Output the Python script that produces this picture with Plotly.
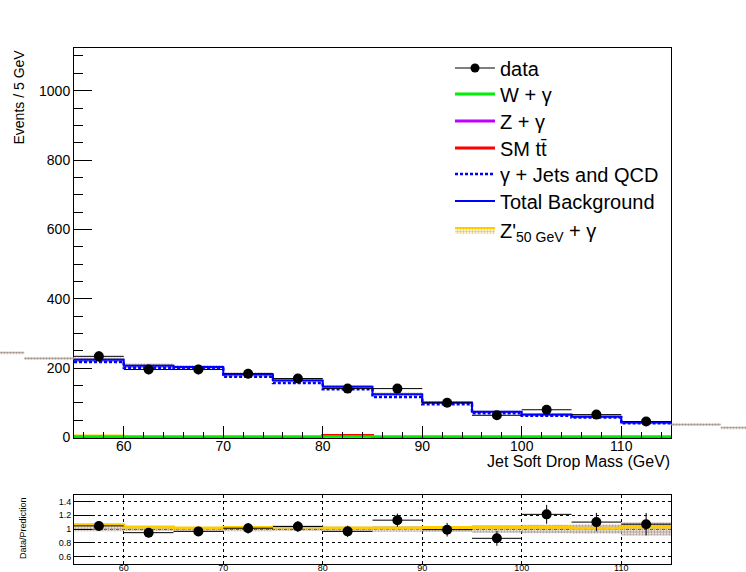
import plotly.graph_objects as go
import numpy as np


# binning and contents
bin_edges = [55, 60, 65, 70, 75, 80, 85, 90, 95, 100, 105, 110, 115]

data_counts = [234, 196, 196, 184, 170, 141, 141, 100, 64, 80, 66, 46]
data_err = [15, 14, 14, 14, 13, 12, 12, 10, 8, 9, 8, 7]

total_bkg = [224, 207, 203, 182, 164, 146, 125, 101, 74, 66, 60, 43]
total_bkg_err = [7, 6, 6, 6, 5, 5, 5, 4, 4, 4, 4, 4]
gjets_qcd = [218, 201, 198, 175, 157, 139, 117, 96, 70, 63, 58, 41]
w_gamma = [2, 2, 2, 2, 2, 2, 2, 2, 2, 2, 2, 2]
z_gamma = [0, 0, 0, 0, 0, 0, 0, 0, 0, 0, 0, 0]
sm_ttbar = [0, 0, 0, 0, 0, 6, 0, 0, 0, 0, 0, 0]
signal_zp50 = [6, 0, 0, 0, 0, 0, 0, 0, 0, 0, 0, 0]

# yellow line drawn in the ratio pad
ratio_signal = [1.06, 1.03, 1.015, 1.02, 1.03, 1.015, 1.015, 1.02, 1.025, 1.025, 1.01, 1.03]

# bits of the error band that ROOT drew outside the frame
band_left_edges = [45, 50, 55]
band_left_vals = [244, 228]
band_right_edges = [115, 120, 125]
band_right_vals = [37, 28]


W, H = 746, 572
FONT = 'Liberation Sans, Arial, Helvetica, sans-serif'

# frame positions in pixels
X0, X1 = 74, 671
MAIN_TOP, MAIN_BOT = 48, 437.5
RAT_TOP, RAT_BOT = 494.5, 563.5

# legend rows (pixel centre of each entry)
LEG_X = 450
LEG_ROWS = [68, 94, 121, 148, 174, 201, 230]

HATCH = '#a8968c'
SIGCOL = '#ffcc00'


def step(vals):
    return list(vals) + [vals[-1]]


def px_x(p):
    return p / W


def px_y(p):
    return 1 - p / H


def leg(i):
    return 'legend' if i == 1 else 'legend%d' % i


edges = np.asarray(bin_edges, dtype=float)
centers = 0.5 * (edges[1:] + edges[:-1])
half = 0.5 * (edges[1:] - edges[:-1])

bkg = np.asarray(total_bkg, dtype=float)
bkg_err = np.asarray(total_bkg_err, dtype=float)
dat = np.asarray(data_counts, dtype=float)
dat_err = np.asarray(data_err, dtype=float)

hatch = dict(shape='.', fgcolor=HATCH, bgcolor='rgba(0,0,0,0)', size=3, solidity=0.6)


traces = []

# total background uncertainty band
traces.append(go.Scatter(
    x=bin_edges, y=step(bkg - bkg_err),
    mode='lines', line=dict(width=0, shape='hv'),
    showlegend=False, hoverinfo='skip'
))
traces.append(go.Scatter(
    x=bin_edges, y=step(bkg + bkg_err),
    mode='lines', line=dict(width=0, shape='hv'),
    fill='tonexty', fillcolor='rgba(0,0,0,0)', fillpattern=hatch,
    showlegend=False, hoverinfo='skip'
))

traces.append(go.Scatter(
    name="Z'<sub>50 GeV</sub> + γ", x=bin_edges, y=step(signal_zp50),
    mode='lines', line=dict(color=SIGCOL, width=2, shape='hv'),
    fill='tozeroy', fillcolor='rgba(0,0,0,0)',
    fillpattern=dict(shape='.', fgcolor='#e8c860', bgcolor='rgba(0,0,0,0)', size=3, solidity=0.5),
    legend=leg(7)
))

for name, vals, col, i in [
    ('Z + γ', z_gamma, '#c000ff', 3),
    ('SM tt\u0304', sm_ttbar, '#ff0000', 4),
    ('W + γ', w_gamma, '#00ee00', 2),
]:
    traces.append(go.Scatter(
        name=name, x=bin_edges, y=step(vals),
        mode='lines', line=dict(color=col, width=3, shape='hv'),
        legend=leg(i)
    ))

traces.append(go.Scatter(
    name='γ + Jets and QCD', x=bin_edges, y=step(gjets_qcd),
    mode='lines', line=dict(color='#0000ff', width=2.5, dash='3px,2px', shape='hv'),
    legend=leg(5)
))
traces.append(go.Scatter(
    name='Total Background', x=bin_edges, y=step(total_bkg),
    mode='lines', line=dict(color='#0000ff', width=2, shape='hv'),
    legend=leg(6)
))

# data
traces.append(go.Scatter(
    x=centers, y=dat,
    mode='markers',
    marker=dict(color='black', size=10, symbol='circle'),
    error_x=dict(type='data', array=half, color='black', thickness=1, width=0),
    error_y=dict(type='data', array=dat_err, color='black', thickness=1, width=0),
    showlegend=False
))
traces.append(go.Scatter(
    name='data', x=[None], y=[None],
    mode='lines+markers',
    marker=dict(color='black', size=9, symbol='circle'),
    line=dict(color='black', width=1),
    legend=leg(1)
))

# band leaking out of the frame
for ed, vals in [(band_left_edges, band_left_vals), (band_right_edges, band_right_vals)]:
    traces.append(go.Scatter(
        x=ed, y=[v - 4 for v in step(vals)], xaxis='x3', yaxis='y',
        mode='lines', line=dict(width=0, shape='hv'),
        showlegend=False, hoverinfo='skip'
    ))
    traces.append(go.Scatter(
        x=ed, y=[v + 4 for v in step(vals)], xaxis='x3', yaxis='y',
        mode='lines', line=dict(width=0, shape='hv'),
        fill='tonexty', fillcolor='rgba(0,0,0,0)', fillpattern=hatch,
        showlegend=False, hoverinfo='skip'
    ))


# ratio pad
rel = bkg_err / bkg
traces.append(go.Scatter(
    x=bin_edges, y=step(1 - rel), xaxis='x2', yaxis='y2',
    mode='lines', line=dict(width=0, shape='hv'),
    showlegend=False, hoverinfo='skip'
))
traces.append(go.Scatter(
    x=bin_edges, y=step(1 + rel), xaxis='x2', yaxis='y2',
    mode='lines', line=dict(width=0, shape='hv'),
    fill='tonexty', fillcolor='rgba(0,0,0,0)', fillpattern=hatch,
    showlegend=False, hoverinfo='skip'
))
traces.append(go.Scatter(
    x=bin_edges, y=step(ratio_signal), xaxis='x2', yaxis='y2',
    mode='lines', line=dict(color=SIGCOL, width=3, shape='hv'),
    showlegend=False
))
traces.append(go.Scatter(
    x=centers, y=dat / bkg, xaxis='x2', yaxis='y2',
    mode='markers',
    marker=dict(color='black', size=10, symbol='circle'),
    error_x=dict(type='data', array=half, color='black', thickness=1, width=0),
    error_y=dict(type='data', array=dat_err / bkg, color='black', thickness=1, width=0),
    showlegend=False
))


frame = dict(showline=True, mirror=True, linecolor='black', linewidth=1,
             showgrid=False, zeroline=False)

ppu = (X1 - X0) / 60.0

layout = go.Layout(
    template='none',
    autosize=False,
    width=W,
    height=H,
    margin=dict(l=0, r=0, t=0, b=0),
    paper_bgcolor='white',
    plot_bgcolor='rgba(0,0,0,0)',
    font=dict(family=FONT, color='black'),

    xaxis=dict(
        domain=[px_x(X0), px_x(X1)], anchor='y', range=[55, 115],
        dtick=10, ticks='inside', ticklen=12, tickwidth=1, tickcolor='black',
        minor=dict(dtick=2, ticks='inside', ticklen=6, tickcolor='black'),
        tickfont=dict(size=14), ticklabelstandoff=-4, **frame
    ),
    yaxis=dict(
        domain=[px_y(MAIN_BOT), px_y(MAIN_TOP)], anchor='x', range=[0, 1123],
        dtick=200, ticks='inside', ticklen=18, tickwidth=1, tickcolor='black',
        minor=dict(dtick=50, ticks='inside', ticklen=9, tickcolor='black'),
        tickfont=dict(size=14), **frame
    ),
    xaxis2=dict(
        domain=[px_x(X0), px_x(X1)], anchor='y2', range=[55, 115],
        dtick=10, ticks='', tickfont=dict(size=9), ticklabelstandoff=-4,
        showline=True, mirror=True, linecolor='black', linewidth=1, zeroline=False,
        showgrid=True, gridcolor='black', gridwidth=1, griddash='dot'
    ),
    yaxis2=dict(
        domain=[px_y(RAT_BOT), px_y(RAT_TOP)], anchor='x2', range=[0.5, 1.5],
        tickvals=[0.6, 0.8, 1.0, 1.2, 1.4], ticks='inside', ticklen=18, tickcolor='black',
        tickfont=dict(size=9),
        showline=True, mirror=True, linecolor='black', linewidth=1, zeroline=False,
        showgrid=True, gridcolor='black', gridwidth=1, griddash='dot'
    ),
    xaxis3=dict(
        domain=[0, 1], anchor='y', visible=False,
        range=[55 - X0 / ppu, 115 + (W - X1) / ppu]
    ),

    annotations=[
        dict(text='Jet Soft Drop Mass (GeV)', xref='paper', yref='paper',
             x=px_x(672), y=px_y(461), xanchor='right', yanchor='middle',
             showarrow=False, font=dict(size=16)),
        dict(text='Events / 5 GeV', xref='paper', yref='paper', textangle=-90,
             x=px_x(18), y=px_y(48), xanchor='center', yanchor='top',
             showarrow=False, font=dict(size=14)),
        dict(text='Data/Prediction', xref='paper', yref='paper', textangle=-90,
             x=px_x(23), y=px_y(528), xanchor='center', yanchor='middle',
             showarrow=False, font=dict(size=9)),
    ]
)

fig = go.Figure(data=traces, layout=layout)

# one legend box per entry so the rows sit where ROOT put them
for i, row in enumerate(LEG_ROWS, start=1):
    fig.update_layout({leg(i): dict(
        x=px_x(LEG_X), y=px_y(row), xanchor='left', yanchor='middle',
        bgcolor='rgba(0,0,0,0)', font=dict(size=20), itemwidth=40
    )})

fig.write_html('out.html', config={'displayModeBar': False},
               post_script="document.body.style.margin = '0px';")
